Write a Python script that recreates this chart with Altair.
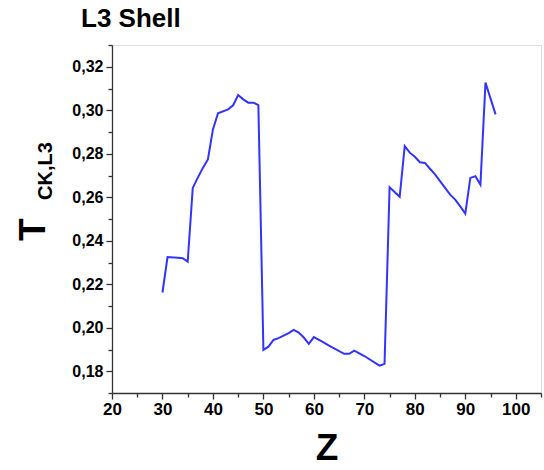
import altair as alt
import pandas as pd

Z = [30, 31, 33, 34, 35, 36, 37, 38, 39, 40, 41, 43, 44, 45, 46, 47, 48, 49,
     50, 51, 52, 53, 55, 56, 57, 58, 59, 60, 62, 63, 66, 67, 68, 70, 73, 74,
     75, 77, 78, 79, 80, 81, 82, 83, 84, 85, 86, 87, 88, 89, 90, 91, 92, 93, 94, 96]
T = [0.2162, 0.2325, 0.2322, 0.2320, 0.2304, 0.2643, 0.2690, 0.2735, 0.2774, 0.2912,
     0.2986, 0.3004, 0.3023, 0.3070, 0.3050, 0.3035, 0.3035, 0.3024,
     0.1898, 0.1913, 0.1944, 0.1952, 0.1975, 0.1990, 0.1978, 0.1955, 0.1926, 0.1957,
     0.1932, 0.1918, 0.1880, 0.1880, 0.1895, 0.1870, 0.1826, 0.1834,
     0.2646, 0.2602, 0.2835, 0.2805, 0.2786, 0.2761, 0.2758, 0.2731, 0.2705, 0.2674,
     0.2643, 0.2612, 0.2589, 0.2558, 0.2525, 0.2689, 0.2697, 0.2658, 0.3127, 0.2981]

x_ticks = list(range(20, 106, 5))
y_ticks = [round(0.17 + 0.01 * i, 2) for i in range(17)]

df = pd.DataFrame({"Z": Z, "T": T})
FONT = "Liberation Sans"
AX = "#333333"

x_major = "datum.value % 10 == 0"
y_major = "round(datum.value*100) % 2 == 0"

line = alt.Chart(df).mark_line(color="#3333ff", strokeWidth=2).encode(
    x=alt.X("Z:Q", scale=alt.Scale(domain=[20, 105], nice=False, zero=False),
            axis=alt.Axis(values=x_ticks, title="Z", grid=False,
                          labelExpr=f"{x_major} ? datum.label : ''",
                          tickSize={"condition": {"test": x_major, "value": 6}, "value": 4},
                          labelFont=FONT, labelFontSize=17, labelFontWeight="bold",
                          labelColor="black", labelPadding=2, labelFlush=False,
                          titleFont=FONT, titleFontSize=37, titleFontWeight="bold",
                          titleColor="black", titlePadding=13,
                          domainColor=AX, tickColor=AX, domainWidth=1.3, tickWidth=1.3)),
    y=alt.Y("T:Q", scale=alt.Scale(domain=[0.17, 0.33], nice=False, zero=False),
            axis=alt.Axis(values=y_ticks, title=None, grid=False,
                          labelExpr=f"{y_major} ? replace(format(datum.value, '.2f'), '.', ',') : ''",
                          tickSize={"condition": {"test": y_major, "value": 6}, "value": 4},
                          labelFont=FONT, labelFontSize=16, labelFontWeight="bold",
                          labelColor="black", labelPadding=3, labelFlush=False,
                          domainColor=AX, tickColor=AX, domainWidth=1.3, tickWidth=1.3)),
)

title = alt.Chart(pd.DataFrame({"t": ["L3 Shell"]})).mark_text(
    font=FONT, fontSize=26, fontWeight="bold", align="left", baseline="alphabetic", color="black"
).encode(text="t:N", x=alt.value(-31), y=alt.value(-18))

ylab_T = alt.Chart(pd.DataFrame({"t": ["T"]})).mark_text(
    font=FONT, fontSize=37, fontWeight="bold", align="left", baseline="alphabetic",
    angle=270, color="black"
).encode(text="t:N", x=alt.value(-67), y=alt.value(196))

ylab_sub = alt.Chart(pd.DataFrame({"t": ["CK,L3"]})).mark_text(
    font=FONT, fontSize=20, fontWeight="bold", align="left", baseline="alphabetic",
    angle=270, color="black"
).encode(text="t:N", x=alt.value(-60), y=alt.value(155))

chart = alt.layer(line, title, ylab_T, ylab_sub).properties(
    width=429, height=348,
    autosize=alt.AutoSizeParams(type="none"),
    padding={"left": 112, "top": 45, "right": 3, "bottom": 77},
).configure_view(stroke=None).configure(background="white")

chart.save("out.html", embed_options={"renderer": "svg", "actions": False})
